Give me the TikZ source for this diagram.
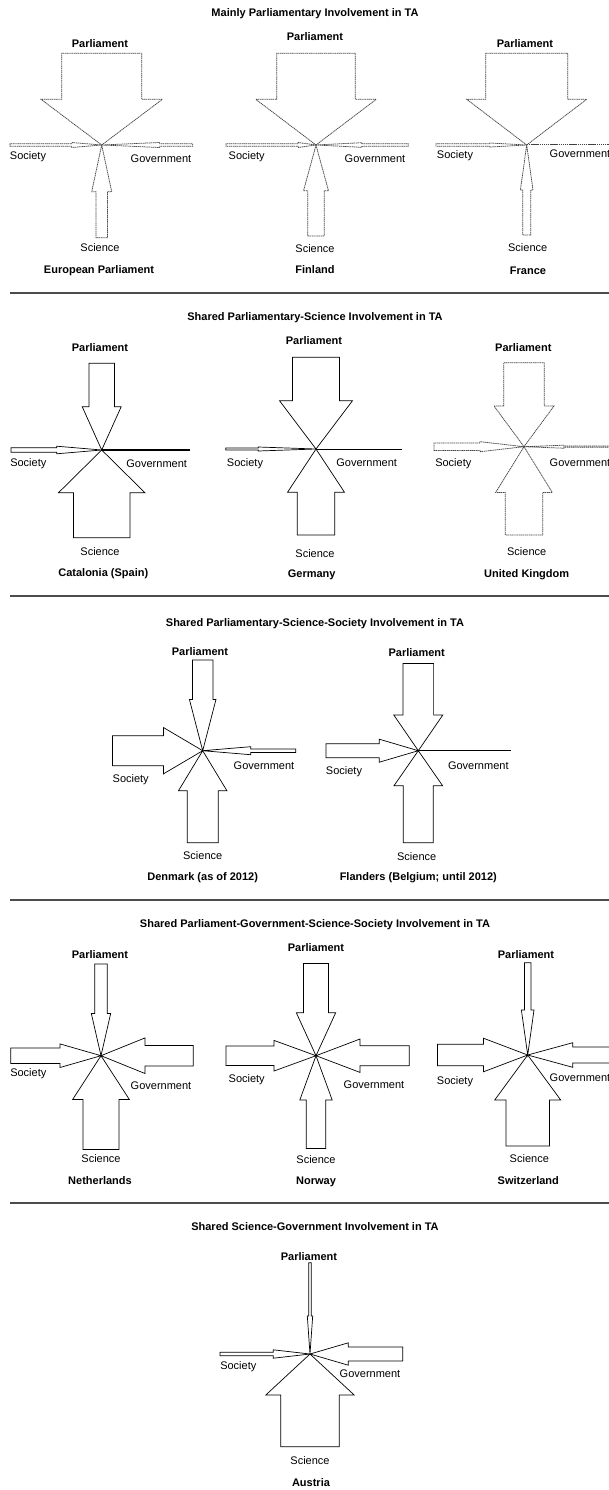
\documentclass[tikz,border=0pt]{standalone}
\usepackage{fontspec}
\setmainfont{Liberation Sans}
\newcommand{\tarr}[8]{% style, cx, cy, angle, L, hl, hh, sh
  \draw[#1, shift={(#2,#3)}, rotate=#4] (0,0) -- (#6,#7) -- (#6,#8) -- (#5,#8) -- (#5,-#8) -- (#6,-#8) -- (#6,-#7) -- cycle;}
\tikzset{
  lab/.style={font=\fontsize{11}{13}\selectfont, inner sep=0pt, anchor=center},
  blab/.style={font=\fontsize{11}{13}\selectfont\bfseries, inner sep=0pt, anchor=center},
  solidarr/.style={draw=black, line width=0.7pt, line join=miter},
  dasharr/.style={draw=black!72, line width=0.75pt, dash pattern=on 1.3pt off 0.6pt},
  sepline/.style={draw=black!70, line width=1.2pt},
  govline/.style={draw=black, line width=1.3pt},
  govdash/.style={draw=black!75, line width=1pt, dash pattern=on 1.3pt off 0.6pt},
}
\begin{document}
\begin{tikzpicture}[x=1pt,y=-1pt]
\clip (0,0) rectangle (609,1490);
\fill[white] (0,0) rectangle (609,1490);

% ---------- separators ----------
\coordinate (s1a) at (10,293);  \coordinate (s1b) at (609,293);
\coordinate (s2a) at (10,596);  \coordinate (s2b) at (609,596);
\coordinate (s3a) at (10,900);  \coordinate (s3b) at (609,900);
\coordinate (s4a) at (10,1203); \coordinate (s4b) at (609,1203);
\draw[sepline] (s1a) -- (s1b);
\draw[sepline] (s2a) -- (s2b);
\draw[sepline] (s3a) -- (s3b);
\draw[sepline] (s4a) -- (s4b);

% ---------- titles ----------
\node[blab] (t1) at (315,14) {Mainly Parliamentary Involvement in TA};
\node[blab] (t2) at (315,318) {Shared Parliamentary-Science Involvement in TA};
\node[blab] (t3) at (315,624) {Shared Parliamentary-Science-Society Involvement in TA};
\node[blab] (t4) at (315,925) {Shared Parliament-Government-Science-Society Involvement in TA};
\node[blab] (t5) at (315,1227) {Shared Science-Government Involvement in TA};

% ================= Row 1 =================
% European Parliament
\tarr{dasharr}{101.7}{145}{90}{91.7}{45.7}{60.7}{40}
\tarr{dasharr}{101.7}{145}{-90}{92.7}{46.7}{10}{5.7}
\tarr{dasharr}{101.7}{145}{180}{91.7}{30}{2.5}{1.2}
\tarr{dasharr}{101.7}{145}{0}{91}{58}{2.5}{1.2}
\node[blab] (ep-p) at (100,44) {Parliament};
\node[lab] (ep-so) at (28,157) {Society};
\node[lab] (ep-g) at (161,159) {Government};
\node[lab] (ep-sc) at (100,248) {Science};
\node[blab] (ep) at (99,271) {European Parliament};

% Finland
\tarr{dasharr}{316}{145}{90}{91.7}{45.7}{60.3}{39.2}
\tarr{dasharr}{316}{145}{-90}{91}{45.7}{12.5}{8.3}
\tarr{dasharr}{316}{145}{180}{90}{18}{2.5}{1.2}
\tarr{dasharr}{316}{145}{0}{92.3}{45.7}{2.3}{1.2}
\node[blab] (fi-p) at (315,37) {Parliament};
\node[lab] (fi-so) at (246.7,157) {Society};
\node[lab] (fi-g) at (375,159) {Government};
\node[lab] (fi-sc) at (315,249) {Science};
\node[blab] (fi) at (315,270) {Finland};

% France
\tarr{dasharr}{526.7}{145}{90}{91.7}{45.7}{60}{41}
\tarr{dasharr}{526.7}{145}{-90}{90}{45}{6.3}{4}
\tarr{dasharr}{526.7}{145}{180}{90.7}{36.7}{2}{1.2}
\coordinate (fr-c) at (526.7,145); \coordinate (fr-ge) at (620,145);
\draw[govdash] (fr-c) -- (fr-ge);
\node[blab] (fr-p) at (525,44) {Parliament};
\node[lab] (fr-so) at (455,156) {Society};
\node[lab] (fr-g) at (580,154) {Government};
\node[lab] (fr-sc) at (527.7,248) {Science};
\node[blab] (fr) at (528,271) {France};

% ================= Row 2 =================
% Catalonia
\tarr{solidarr}{101.7}{450}{90}{86.7}{43.3}{19.5}{12.8}
\tarr{solidarr}{101.7}{450}{-90}{87.7}{42.7}{43.2}{28.3}
\tarr{solidarr}{101.7}{450}{180}{90.7}{45}{3.8}{2.2}
\coordinate (ca-c) at (101.7,450); \coordinate (ca-ge) at (190,450);
\draw[govline] (ca-c) -- (ca-ge);
\node[blab] (ca-p) at (100,347.3) {Parliament};
\node[lab] (ca-so) at (28.3,463.3) {Society};
\node[lab] (ca-g) at (156.7,463.3) {Government};
\node[lab] (ca-sc) at (100,551.7) {Science};
\node[blab] (ca) at (103.3,574) {Catalonia (Spain)};

% Germany
\tarr{solidarr}{316}{449}{90}{91.7}{48.3}{36.5}{23.5}
\tarr{solidarr}{316}{449}{-90}{86}{43.3}{28.5}{18.8}
\tarr{solidarr}{316}{449}{180}{90.3}{57.7}{2}{1}
\coordinate (de-c) at (316,449); \coordinate (de-ge) at (402.3,449);
\draw[solidarr] (de-c) -- (de-ge);
\node[blab] (de-p) at (314,340.7) {Parliament};
\node[lab] (de-so) at (245,464) {Society};
\node[lab] (de-g) at (366.7,462.7) {Government};
\node[lab] (de-sc) at (315,553.3) {Science};
\node[blab] (de) at (311.7,575) {Germany};

% United Kingdom
\tarr{dasharr}{524}{446.7}{90}{84}{40.7}{30}{20.3}
\tarr{dasharr}{524}{446.7}{-90}{88.3}{45.7}{28.3}{18.8}
\tarr{dasharr}{524}{446.7}{180}{90}{44}{5}{3.8}
\tarr{dasharr}{524}{446.7}{0}{100}{40}{1.5}{0.6}
\node[blab] (uk-p) at (523.3,347.3) {Parliament};
\node[lab] (uk-so) at (453.3,464) {Society};
\node[lab] (uk-g) at (580,462.7) {Government};
\node[lab] (uk-sc) at (526.7,551.7) {Science};
\node[blab] (uk) at (526.7,575) {United Kingdom};

% ================= Row 3 =================
% Denmark
\tarr{solidarr}{202.7}{750.7}{90}{90.7}{51.3}{13.3}{10.3}
\tarr{solidarr}{202.7}{750.7}{-90}{92}{40}{24.2}{15.5}
\tarr{solidarr}{202.7}{750.7}{180}{90.3}{39.3}{23.2}{15}
\tarr{solidarr}{202.7}{750.7}{0}{93}{48}{4}{1.8}
\node[blab] (dk-p) at (200,651.7) {Parliament};
\node[lab] (dk-so) at (130.7,780) {Society};
\node[lab] (dk-g) at (264,766) {Government};
\node[lab] (dk-sc) at (202.7,856) {Science};
\node[blab] (dk) at (202.7,877.3) {Denmark (as of 2012)};

% Flanders
\tarr{solidarr}{418.3}{750.7}{90}{87.3}{35.7}{24.5}{15.3}
\tarr{solidarr}{418.3}{750.7}{-90}{92}{35}{24.3}{15}
\tarr{solidarr}{418.3}{750.7}{180}{92.3}{39}{11.5}{7}
\coordinate (fl-c) at (418.3,750.7); \coordinate (fl-ge) at (510.7,750.7);
\draw[govline] (fl-c) -- (fl-ge);
\node[blab] (fl-p) at (416.7,652.7) {Parliament};
\node[lab] (fl-so) at (344,771.7) {Society};
\node[lab] (fl-g) at (478.3,765.7) {Government};
\node[lab] (fl-sc) at (416.7,856.7) {Science};
\node[blab] (fl) at (418.3,877.3) {Flanders (Belgium; until 2012)};

% ================= Row 4 =================
% Netherlands
\tarr{solidarr}{101}{1055.7}{90}{91.7}{42.3}{9.7}{6.3}
\tarr{solidarr}{101}{1055.7}{-90}{93.7}{43.7}{28.3}{18}
\tarr{solidarr}{101}{1055.7}{180}{90.3}{41}{11.8}{7.8}
\tarr{solidarr}{101}{1055.7}{0}{92.3}{44}{17.8}{10.3}
\node[blab] (nl-p) at (100,955) {Parliament};
\node[lab] (nl-so) at (28.3,1074) {Society};
\node[lab] (nl-g) at (161,1085.7) {Government};
\node[lab] (nl-sc) at (101,1159) {Science};
\node[blab] (nl) at (100,1181) {Netherlands};

% Norway
\tarr{solidarr}{316}{1055.7}{90}{92.3}{43}{19.7}{12.5}
\tarr{solidarr}{316}{1055.7}{-90}{92.7}{44.3}{16.2}{9.7}
\tarr{solidarr}{316}{1055.7}{180}{90}{42}{15.3}{9.7}
\tarr{solidarr}{316}{1055.7}{0}{93.3}{44}{16.7}{10}
\node[blab] (no-p) at (316,947.7) {Parliament};
\node[lab] (no-so) at (246.7,1079.3) {Society};
\node[lab] (no-g) at (374,1085) {Government};
\node[lab] (no-sc) at (316,1159.3) {Science};
\node[blab] (no) at (316,1181.7) {Norway};

% Switzerland
\tarr{solidarr}{527.7}{1055}{90}{92.3}{45}{6.3}{3.3}
\tarr{solidarr}{527.7}{1055}{-90}{91}{45}{33}{21.7}
\tarr{solidarr}{527.7}{1055}{180}{90.3}{44.3}{16.8}{10.8}
\tarr{solidarr}{527.7}{1055}{0}{92}{45}{12.3}{8}
\node[blab] (ch-p) at (526,954.3) {Parliament};
\node[lab] (ch-so) at (455,1081.7) {Society};
\node[lab] (ch-g) at (580,1077.3) {Government};
\node[lab] (ch-sc) at (529.3,1159) {Science};
\node[blab] (ch) at (528.3,1181) {Switzerland};

% ================= Row 5 =================
% Austria
\tarr{solidarr}{310}{1354}{90}{91.3}{38}{2.7}{1.2}
\tarr{solidarr}{310}{1354}{-90}{92.7}{41}{44.2}{29.2}
\tarr{solidarr}{310}{1354}{180}{90}{36.7}{4.2}{1.7}
\tarr{solidarr}{310}{1354}{0}{92.7}{38.3}{11.2}{7}
\node[blab] (at-p) at (309,1256.7) {Parliament};
\node[lab] (at-so) at (238.3,1366.7) {Society};
\node[lab] (at-g) at (370,1374) {Government};
\node[lab] (at-sc) at (310,1460.7) {Science};
\node[blab] (at) at (311,1483) {Austria};
\end{tikzpicture}
\end{document}
